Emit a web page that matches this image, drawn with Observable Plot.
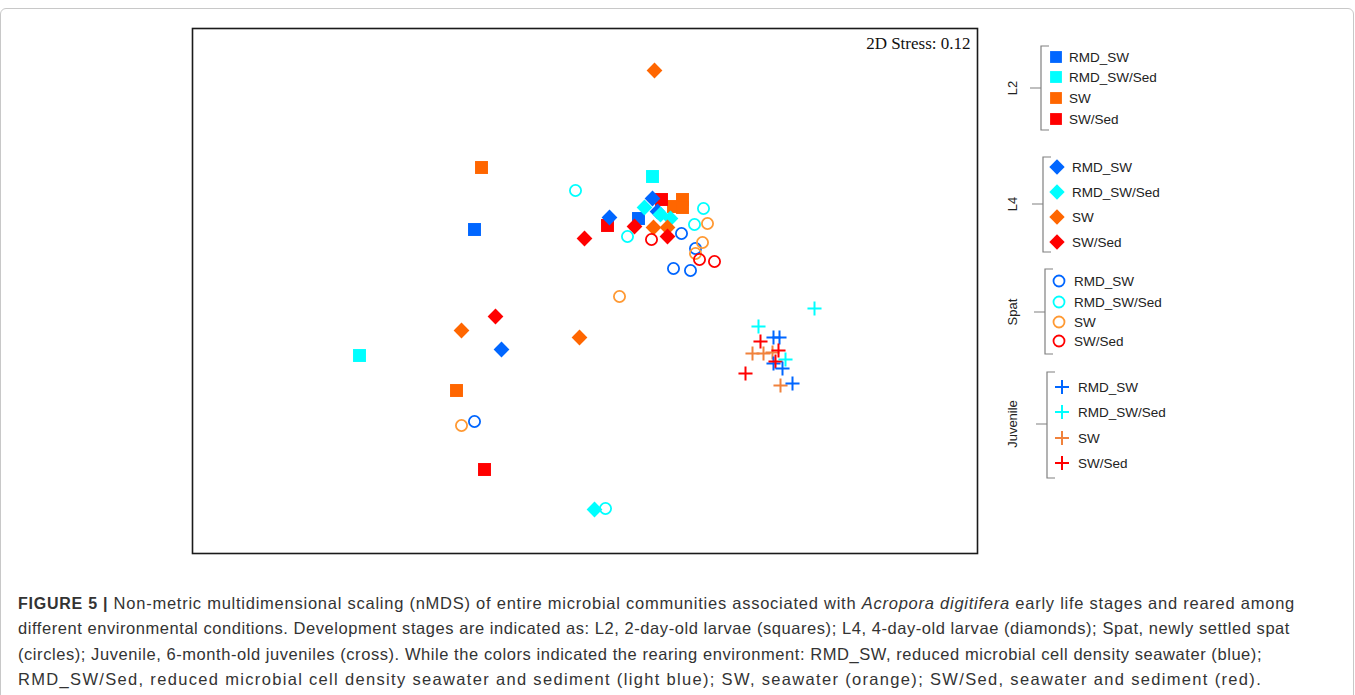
<!DOCTYPE html>
<html><head><meta charset="utf-8">
<script src="https://cdn.jsdelivr.net/npm/d3@7"></script>
<script src="https://cdn.jsdelivr.net/npm/@observablehq/plot@0.6"></script>
<style>
body{margin:0;background:#fff;}
#fig{position:relative;width:1355px;height:695px;overflow:hidden;background:#fff;}
#border{position:absolute;left:0;top:8px;width:1352px;height:700px;border:1px solid #c8c8c8;border-radius:6px;}
#chart{position:absolute;left:0;top:0;}
#legend{position:absolute;left:0;top:0;}
#caption{position:absolute;left:18px;top:591px;font-family:"Liberation Sans",Arial,sans-serif;font-size:16.5px;line-height:25.3px;color:#333;white-space:nowrap;}
#caption div{display:inline-block;clear:both;}
#caption .ln{display:block;}
#caption .inner{display:inline-block;}
#caption b{font-size:16px;}
</style></head>
<body>
<div id="fig">
  <div id="border"></div>
  <div id="chart"></div>
  <svg id="legend" width="1355" height="570"></svg>
  <div id="caption"></div>
</div>
<script>
// ---- data ----
const conditions = ["RMD_SW", "RMD_SW/Sed", "SW", "SW/Sed"];
const stages = ["L2", "L4", "Spat", "Juvenile"];
const stressLabel = "2D Stress: 0.12";

const colorsSolid = ["#0066FF", "#00FFFF", "#FF6600", "#FF0000"];
const colorsSpat = ["#0066FF", "#00FFFF", "#FF9933", "#FF0000"];
const colorsJuvenile = ["#0066FF", "#00FFFF", "#F0823C", "#FF0000"];

const captionLines = [
  "<b>FIGURE 5 |</b> Non-metric multidimensional scaling (nMDS) of entire microbial communities associated with <i>Acropora digitifera</i> early life stages and reared among",
  "different environmental conditions. Development stages are indicated as: L2, 2-day-old larvae (squares); L4, 4-day-old larvae (diamonds); Spat, newly settled spat",
  "(circles); Juvenile, 6-month-old juveniles (cross). While the colors indicated the rearing environment: RMD_SW, reduced microbial cell density seawater (blue);",
  "RMD_SW/Sed, reduced microbial cell density seawater and sediment (light blue); SW, seawater (orange); SW/Sed, seawater and sediment (red)."
];
const captionLineWidths = [1277, 1272, 1244, 1244];

const l2Points = [
  {cond: "RMD_SW", x: -0.444, y: 0.244},
  {cond: "RMD_SW", x: 0.212, y: 0.288},
  {cond: "RMD_SW/Sed", x: -0.904, y: -0.260},
  {cond: "RMD_SW/Sed", x: 0.268, y: 0.456},
  {cond: "SW", x: -0.416, y: 0.492},
  {cond: "SW", x: -0.516, y: -0.400},
  {cond: "SW", x: 0.388, y: 0.364},
  {cond: "SW", x: 0.352, y: 0.336},
  {cond: "SW", x: 0.388, y: 0.332},
  {cond: "SW/Sed", x: -0.404, y: -0.716},
  {cond: "SW/Sed", x: 0.088, y: 0.260},
  {cond: "SW/Sed", x: 0.304, y: 0.364}
];

const l4Points = [
  {cond: "RMD_SW", x: -0.336, y: -0.236},
  {cond: "RMD_SW", x: 0.096, y: 0.292},
  {cond: "RMD_SW", x: 0.268, y: 0.368},
  {cond: "RMD_SW", x: 0.288, y: 0.316},
  {cond: "RMD_SW/Sed", x: 0.036, y: -0.876},
  {cond: "RMD_SW/Sed", x: 0.236, y: 0.332},
  {cond: "RMD_SW/Sed", x: 0.300, y: 0.304},
  {cond: "RMD_SW/Sed", x: 0.340, y: 0.288},
  {cond: "SW", x: 0.276, y: 0.880},
  {cond: "SW", x: -0.496, y: -0.160},
  {cond: "SW", x: -0.024, y: -0.188},
  {cond: "SW", x: 0.272, y: 0.252},
  {cond: "SW", x: 0.328, y: 0.252},
  {cond: "SW/Sed", x: -0.360, y: -0.104},
  {cond: "SW/Sed", x: -0.004, y: 0.208},
  {cond: "SW/Sed", x: 0.196, y: 0.256},
  {cond: "SW/Sed", x: 0.328, y: 0.216}
];

const spatPoints = [
  {cond: "RMD_SW", x: -0.444, y: -0.524},
  {cond: "RMD_SW", x: 0.384, y: 0.228},
  {cond: "RMD_SW", x: 0.440, y: 0.168},
  {cond: "RMD_SW", x: 0.352, y: 0.088},
  {cond: "RMD_SW", x: 0.420, y: 0.080},
  {cond: "RMD_SW/Sed", x: -0.040, y: 0.400},
  {cond: "RMD_SW/Sed", x: 0.168, y: 0.216},
  {cond: "RMD_SW/Sed", x: 0.472, y: 0.328},
  {cond: "RMD_SW/Sed", x: 0.436, y: 0.264},
  {cond: "RMD_SW/Sed", x: 0.080, y: -0.872},
  {cond: "SW", x: -0.496, y: -0.540},
  {cond: "SW", x: 0.136, y: -0.024},
  {cond: "SW", x: 0.488, y: 0.268},
  {cond: "SW", x: 0.468, y: 0.192},
  {cond: "SW", x: 0.440, y: 0.148},
  {cond: "SW/Sed", x: 0.264, y: 0.204},
  {cond: "SW/Sed", x: 0.456, y: 0.124},
  {cond: "SW/Sed", x: 0.516, y: 0.116}
];

const juvenilePoints = [
  {cond: "RMD_SW/Sed", x: 0.916, y: -0.072},
  {cond: "RMD_SW/Sed", x: 0.692, y: -0.144},
  {cond: "RMD_SW", x: 0.752, y: -0.188},
  {cond: "RMD_SW", x: 0.776, y: -0.188},
  {cond: "SW/Sed", x: 0.700, y: -0.204},
  {cond: "SW", x: 0.668, y: -0.252},
  {cond: "SW", x: 0.712, y: -0.252},
  {cond: "SW", x: 0.748, y: -0.248},
  {cond: "SW/Sed", x: 0.772, y: -0.240},
  {cond: "RMD_SW", x: 0.752, y: -0.292},
  {cond: "SW/Sed", x: 0.760, y: -0.284},
  {cond: "RMD_SW/Sed", x: 0.800, y: -0.276},
  {cond: "RMD_SW", x: 0.788, y: -0.312},
  {cond: "SW/Sed", x: 0.640, y: -0.332},
  {cond: "SW", x: 0.780, y: -0.380},
  {cond: "RMD_SW", x: 0.828, y: -0.372}
];

// ---- chart ----
const colorOf = (pal) => (d) => pal[conditions.indexOf(d.cond)];

const chart = Plot.plot({
  width: 1355,
  height: 570,
  marginLeft: 192,
  marginRight: 378,
  marginTop: 28,
  marginBottom: 17,
  x: {domain: [-1.572, 1.568], axis: null},
  y: {domain: [-1.052, 1.048], axis: null},
  style: {background: "transparent", overflow: "visible"},
  marks: [
    Plot.frame({stroke: "#1a1a1a", strokeWidth: 1.6}),
    Plot.text([stressLabel], {frameAnchor: "top-right", textAnchor: "end", lineAnchor: "top", dx: -7, dy: 8,
      fontFamily: "Liberation Serif, Times New Roman, serif", fontSize: 17, fill: "#111"}),
    Plot.dot(l2Points, {x: "x", y: "y", symbol: "square", r: 7.3, fill: colorOf(colorsSolid), stroke: "none"}),
    Plot.dot(l4Points, {x: "x", y: "y", symbol: "diamond2", r: 7.1, fill: colorOf(colorsSolid), stroke: "none"}),
    Plot.dot(spatPoints, {x: "x", y: "y", symbol: "circle", r: 5.6, fill: "none", stroke: colorOf(colorsSpat), strokeWidth: 1.8}),
    Plot.dot(juvenilePoints, {x: "x", y: "y", symbol: "plus", r: 4.6, fill: "none", stroke: colorOf(colorsJuvenile), strokeWidth: 2})
  ]
});
document.getElementById("chart").appendChild(chart);

// ---- caption (each line fitted to the reference line length) ----
const cap = document.getElementById("caption");
captionLines.forEach((html, i) => {
  const ln = document.createElement("div");
  ln.className = "ln";
  const inner = document.createElement("span");
  inner.className = "inner";
  inner.innerHTML = html;
  ln.appendChild(inner);
  cap.appendChild(ln);
  const w = inner.getBoundingClientRect().width;
  const n = inner.textContent.length;
  inner.style.letterSpacing = ((captionLineWidths[i] - w) / n).toFixed(3) + "px";
});

// ---- legend ----
const legendLayout = [
  {bx: 1041, top: 46, bottom: 130, mid: 88, ys: [57, 77, 98, 119], sx: 1056, tx: 1069, sym: d3.symbolSquare, size: 140, filled: true, pal: colorsSolid},
  {bx: 1043, top: 157, bottom: 252, mid: 204, ys: [167, 192, 217, 242], sx: 1057, tx: 1072, sym: d3.symbolDiamond2, size: 150, filled: true, pal: colorsSolid},
  {bx: 1045, top: 269, bottom: 354, mid: 312, ys: [281, 302, 322, 341], sx: 1059, tx: 1074, sym: d3.symbolCircle, size: 95, filled: false, pal: colorsSpat},
  {bx: 1047, top: 372, bottom: 478, mid: 424, ys: [387, 412, 438, 463], sx: 1062, tx: 1078, sym: d3.symbolPlus, size: 66, filled: false, pal: colorsJuvenile}
];
const lg = d3.select("#legend");
stages.forEach((stage, i) => {
  const L = legendLayout[i];
  const g = lg.append("g");
  g.append("path")
    .attr("d", `M${L.bx + 8},${L.top}H${L.bx}V${L.bottom}H${L.bx + 8}M${L.bx},${L.mid}H${L.bx - 11}`)
    .attr("fill", "none").attr("stroke", "#808080").attr("stroke-width", 1.2);
  g.append("text")
    .attr("transform", `translate(${1017},${L.mid}) rotate(-90)`)
    .attr("text-anchor", "middle")
    .attr("font-family", "Liberation Sans, Arial, sans-serif")
    .attr("font-size", 13)
    .attr("fill", "#222")
    .text(stage);
  conditions.forEach((c, j) => {
    const col = L.pal[j];
    const p = g.append("path")
      .attr("d", d3.symbol(L.sym, L.size)())
      .attr("transform", `translate(${L.sx},${L.ys[j]})`);
    if (L.filled) p.attr("fill", col);
    else p.attr("fill", "none").attr("stroke", col).attr("stroke-width", L.sym === d3.symbolPlus ? 2 : 1.8);
    g.append("text")
      .attr("x", L.tx).attr("y", L.ys[j]).attr("dy", "0.35em")
      .attr("font-family", "Liberation Sans, Arial, sans-serif")
      .attr("font-size", 13.5)
      .attr("fill", "#222")
      .text(c);
  });
});
</script>
</body></html>
